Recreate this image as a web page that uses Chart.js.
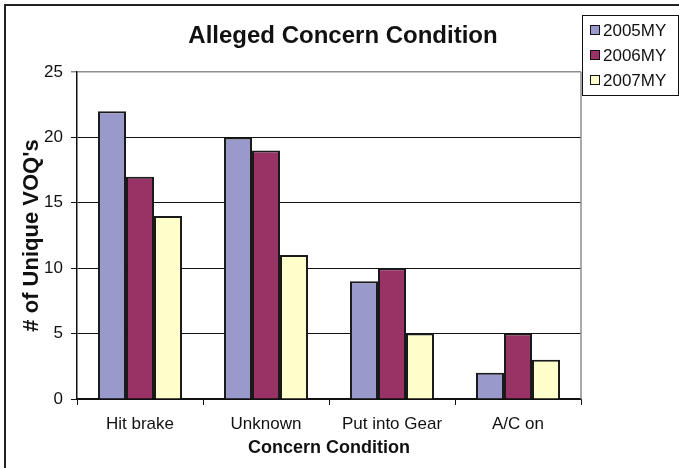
<!DOCTYPE html>
<html>
<head>
<meta charset="utf-8">
<script src="https://cdn.jsdelivr.net/npm/chart.js@4/dist/chart.umd.min.js"></script>
<style>
    body { margin: 0; background: #fff; }
    #wrap { width: 679px; height: 468px; }
</style>
</head>
<body>
<div id="wrap"><canvas id="chart" width="679" height="468"></canvas></div>
<script>
const categories = ["Hit brake", "Unknown", "Put into Gear", "A/C on"];
const seriesNames = ["2005MY", "2006MY", "2007MY"];
const values2005 = [22, 20, 9, 2];
const values2006 = [17, 19, 10, 5];
const values2007 = [14, 11, 5, 3];
const yTickValues = [0, 5, 10, 15, 20, 25];

const colors = ["#9999CC", "#993366", "#FFFFCC"];
const fontName = "'Liberation Sans', Arial, sans-serif";

const makeDataSets = () => {
    let list = [values2005, values2006, values2007];
    return list.map((data, i) => ({
        label: seriesNames[i],
        data: data,
        backgroundColor: colors[i],
        borderColor: "#1a1a1a",
        borderWidth: 2,
        categoryPercentage: 0.667,
        barPercentage: 1.0
    }));
};

// frame, plot border, title and legend box drawn the excel way
const decorPlugin = {
    id: "decor",
    afterDraw: (chart) => {
        let ctx = chart.ctx;
        let area = chart.chartArea;
        ctx.save();

        ctx.strokeStyle = "#222";
        ctx.lineWidth = 2;
        ctx.beginPath();
        ctx.moveTo(5, 468);
        ctx.lineTo(5, 5);
        ctx.lineTo(679, 5);
        ctx.stroke();

        ctx.strokeStyle = "#8c8c8c";
        ctx.lineWidth = 1.5;
        ctx.beginPath();
        ctx.moveTo(area.right, area.top);
        ctx.lineTo(area.right, area.bottom);
        ctx.stroke();

        ctx.fillStyle = "#111";
        ctx.font = "bold 24px " + fontName;
        ctx.textAlign = "center";
        ctx.textBaseline = "alphabetic";
        ctx.fillText("Alleged Concern Condition", 343, 43);

        // legend
        ctx.fillStyle = "#fff";
        ctx.fillRect(582, 15, 96, 80);
        ctx.strokeStyle = "#111";
        ctx.lineWidth = 1;
        ctx.strokeRect(582.5, 15.5, 96, 80);
        ctx.font = "17px " + fontName;
        ctx.textAlign = "left";
        ctx.textBaseline = "middle";
        seriesNames.forEach((name, i) => {
            let y = 30 + i * 25;
            ctx.fillStyle = colors[i];
            ctx.fillRect(590, y - 5, 10, 10);
            ctx.strokeStyle = "#111";
            ctx.strokeRect(590.5, y - 4.5, 9, 9);
            ctx.fillStyle = "#111";
            ctx.fillText(name, 603, y + 1);
        });
        ctx.restore();
    }
};

const drawChart = () => {
    let chx = document.querySelector("#chart");
    new Chart(chx, {
        type: "bar",
        data: {
            labels: categories,
            datasets: makeDataSets()
        },
        options: {
            responsive: false,
            animation: false,
            layout: { padding: { left: 0, top: 72, right: 98, bottom: 0 } },
            plugins: {
                legend: { display: false },
                title: { display: false },
                tooltip: { enabled: false }
            },
            scales: {
                x: {
                    afterFit: (scale) => { scale.height = 69; },
                    grid: {
                        offset: true,
                        drawOnChartArea: false,
                        drawTicks: true,
                        tickLength: 6,
                        color: "#111"
                    },
                    border: { color: "#111", width: 1.5 },
                    ticks: {
                        color: "#111",
                        padding: 9,
                        font: { family: fontName, size: 17 }
                    },
                    title: {
                        display: true,
                        text: "Concern Condition",
                        color: "#111",
                        padding: { top: 0, bottom: 9 },
                        font: { family: fontName, size: 18, weight: "bold" }
                    }
                },
                y: {
                    min: 0,
                    max: 25,
                    afterFit: (scale) => { scale.width = 77; },
                    afterBuildTicks: (scale) => {
                        scale.ticks = yTickValues.map((v) => ({ value: v }));
                    },
                    grid: {
                        tickLength: 6,
                        color: (c) => (c.tick && c.tick.value === 25 ? "#8c8c8c" : "#111"),
                        lineWidth: (c) => (c.tick && c.tick.value === 25 ? 1.5 : 1)
                    },
                    border: { color: "#111", width: 1.5 },
                    ticks: {
                        color: "#111",
                        padding: 8,
                        font: { family: fontName, size: 17 }
                    },
                    title: {
                        display: true,
                        text: "# of Unique VOQ's",
                        color: "#111",
                        padding: { top: 19, bottom: 0 },
                        font: { family: fontName, size: 22, weight: "bold" }
                    }
                }
            }
        },
        plugins: [decorPlugin]
    });
};

document.addEventListener("DOMContentLoaded", () => {
    drawChart();
});
</script>
</body>
</html>
